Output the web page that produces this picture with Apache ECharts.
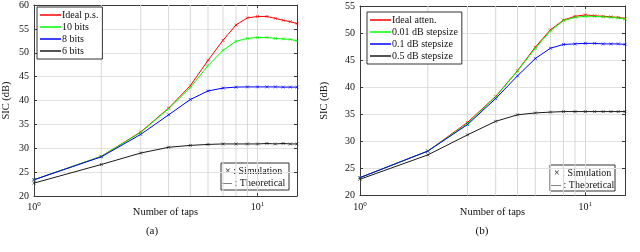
<!DOCTYPE html>
<html><head><meta charset="utf-8">
<script src="https://cdn.jsdelivr.net/npm/echarts@6/dist/echarts.min.js"></script>
<style>html,body{margin:0;padding:0;background:#fff}#c{width:640px;height:252px}</style>
</head><body><div id="c"></div>
<script>
// ---- data ----
const taps = [1,2,3,4,5,6,7,8,9,10,11,12,13,14,15];
const minorGridX = [2,3,4,5,6,7,8,9];
const yRangeA = [20, 60];
const yRangeB = [20, 55];
const yStep = 5;

const namesA = ['Ideal p.s.', '10 bits', '8 bits', '6 bits'];
const idealPs = [23.4, 28.3, 33.4, 38.4, 43.1, 48.4, 52.6, 55.8, 57.3, 57.6, 57.6, 57.2, 56.8, 56.5, 56.1];
const bits10  = [23.4, 28.3, 33.3, 38.3, 42.7, 47.3, 50.5, 52.4, 53.0, 53.2, 53.2, 53.0, 52.9, 52.8, 52.5];
const bits8   = [23.4, 28.2, 32.9, 37.0, 40.2, 42.0, 42.6, 42.8, 42.85, 42.85, 42.85, 42.85, 42.8, 42.8, 42.8];
const bits6   = [22.7, 26.6, 29.0, 30.2, 30.6, 30.8, 30.9, 30.9, 30.9, 30.9, 31.0, 30.9, 31.0, 30.9, 30.9];

const namesB = ['Ideal atten.', '0.01 dB stepsize', '0.1 dB stepsize', '0.5 dB stepsize'];
const idealAtten = [23.3, 28.2, 33.5, 38.3, 43.05, 47.4, 50.6, 52.4, 53.1, 53.35, 53.2, 53.1, 53.0, 52.9, 52.7];
const step001    = [23.3, 28.2, 33.3, 38.2, 43.0, 47.2, 50.4, 52.3, 52.9, 53.1, 53.1, 53.0, 52.9, 52.8, 52.6];
const step01     = [23.3, 28.2, 33.1, 37.9, 42.1, 45.3, 47.2, 47.9, 48.0, 48.1, 48.1, 48.0, 48.0, 48.0, 47.9];
const step05     = [23.0, 27.5, 31.2, 33.7, 34.9, 35.25, 35.4, 35.5, 35.5, 35.5, 35.5, 35.5, 35.5, 35.5, 35.5];

const seriesA = [idealPs, bits10, bits8, bits6];
const seriesB = [idealAtten, step001, step01, step05];
const colors = ['#ff0000', '#00ff00', '#0000ff', '#1a1a1a'];

// ---- styling ----
const FONT = 'Liberation Serif, Times New Roman, serif';
const axisColor = '#3a3a3a';
const gridColor = '#e2e2e2';
const vGridColor = '#d8d8d8';
const crossPath = 'path://M0,0L10,10M10,0L0,10';

function logLabel(v) {
  const e = Math.round(Math.log10(v));
  return Math.abs(Math.pow(10, e) - v) < 1e-6 ? '{b|10}{s|' + e + '}' : '';
}

function xAxes(gi) {
  return [
    { type: 'log', logBase: 10, gridIndex: gi, min: 1, max: 15, position: 'bottom',
      name: 'Number of taps', nameLocation: 'middle', nameGap: 11, nameMoveOverlap: false,
      nameTextStyle: { fontFamily: FONT, fontSize: 10.5, color: '#111' },
      axisLine: { show: true, lineStyle: { color: axisColor, width: 1 } },
      axisTick: { show: true, inside: true, length: 3, lineStyle: { color: axisColor } },
      splitLine: { show: true, lineStyle: { color: vGridColor, width: 1 } },
      axisLabel: { formatter: logLabel, margin: 5, color: '#111',
        rich: { b: { fontFamily: FONT, fontSize: 10, color: '#111' },
                s: { fontFamily: FONT, fontSize: 7, color: '#111', padding: [0, 0, 6, 0] } } } },
    { type: 'log', logBase: 10, gridIndex: gi, min: 1, max: 15, position: 'top',
      axisLine: { show: true, lineStyle: { color: axisColor, width: 1 } },
      axisTick: { show: true, inside: true, length: 3, lineStyle: { color: axisColor } },
      splitLine: { show: false }, axisLabel: { show: false } }
  ];
}
function yAxes(gi, range, gap) {
  return [
    { type: 'value', gridIndex: gi, min: range[0], max: range[1], interval: yStep, position: 'left',
      name: 'SIC (dB)', nameLocation: 'middle', nameGap: gap, nameMoveOverlap: false,
      nameTextStyle: { fontFamily: FONT, fontSize: 10.5, color: '#111' },
      axisLine: { show: true, lineStyle: { color: axisColor, width: 1 } },
      axisTick: { show: true, inside: true, length: 3, lineStyle: { color: axisColor } },
      splitLine: { show: true, lineStyle: { color: gridColor, width: 1 } },
      axisLabel: { fontFamily: FONT, fontSize: 10, color: '#111', margin: 5 } },
    { type: 'value', gridIndex: gi, min: range[0], max: range[1], interval: yStep, position: 'right',
      axisLine: { show: true, lineStyle: { color: axisColor, width: 1 } },
      axisTick: { show: true, inside: true, length: 3, lineStyle: { color: axisColor } },
      splitLine: { show: false }, axisLabel: { show: false } }
  ];
}

function buildSeries(gi, names, data, range) {
  const out = [];
  const xi = gi * 2, yi = gi * 2;
  // minor vertical grid lines at 2..9, drawn through the log axis
  minorGridX.forEach(v => {
    out.push({ type: 'line', name: 'grid' + gi + '_' + v, xAxisIndex: xi, yAxisIndex: yi,
      silent: true, z: 1, showSymbol: false, symbol: 'none',
      data: [[v, range[0]], [v, range[1]]],
      lineStyle: { color: vGridColor, width: 1 }, emphasis: { disabled: true } });
  });
  data.forEach((arr, i) => {
    out.push({ type: 'line', name: names[i], xAxisIndex: xi, yAxisIndex: yi, z: 3 + i,
      data: taps.map((t, k) => [t, arr[k]]), showSymbol: false, symbol: 'none',
      lineStyle: { color: colors[i], width: 1 }, itemStyle: { color: colors[i] } });
  });
  data.forEach((arr, i) => {
    out.push({ type: 'scatter', name: 'sim' + gi + '_' + i, xAxisIndex: xi, yAxisIndex: yi, z: 10,
      data: taps.map((t, k) => [t, arr[k]]), symbol: crossPath, symbolSize: 3,
      itemStyle: { color: colors[i], borderColor: colors[i], borderWidth: 0.8 } });
  });
  return out;
}

function legend(names, left, top) {
  return { data: names, orient: 'vertical', left: left, top: top, icon: 'rect', z: 20,
    itemWidth: 21, itemHeight: 1.5, itemGap: 2, padding: [3, 4, 3, 3],
    borderColor: '#333', borderWidth: 1, backgroundColor: '#fff',
    textStyle: { fontFamily: FONT, fontSize: 10, color: '#111', lineHeight: 10, padding: [0, 0, 0, -4] } };
}

function simBox(x, y, w, h) {
  return { type: 'group', z: 100, children: [
    { type: 'rect', shape: { x: x, y: y, width: w, height: h },
      style: { fill: '#fff', stroke: '#333', lineWidth: 1 } },
    { type: 'text', x: x + 4, y: y + 8.5, style: { text: '\u00d7 : Simulation', font: '10px ' + FONT, fill: '#111', verticalAlign: 'middle' } },
    { type: 'text', x: x + 1, y: y + 20, style: { text: '\u2014 : Theoretical', font: '10px ' + FONT, fill: '#111', verticalAlign: 'middle' } }
  ] };
}

const chart = echarts.init(document.getElementById('c'), null, { renderer: 'canvas' });
chart.setOption({
  animation: false,
  backgroundColor: '#fff',
  grid: [
    { left: 32, right: 343, top: 4, bottom: 56, show: false },
    { left: 360, right: 15, top: 6, bottom: 56.5, show: false }
  ],
  xAxis: xAxes(0).concat(xAxes(1)),
  yAxis: yAxes(0, yRangeA, 22).concat(yAxes(1, yRangeB, 30)),
  legend: [legend(namesA, 37, 7), legend(namesB, 367, 12)],
  series: buildSeries(0, namesA, seriesA, yRangeA).concat(buildSeries(1, namesB, seriesB, yRangeB)),
  graphic: [
    simBox(221, 163, 68, 27),
    simBox(550, 165, 65, 26),
    { type: 'text', x: 152, y: 231, style: { text: '(a)', font: '11px ' + FONT, fill: '#111', align: 'center', verticalAlign: 'middle' } },
    { type: 'text', x: 482, y: 231, style: { text: '(b)', font: '11px ' + FONT, fill: '#111', align: 'center', verticalAlign: 'middle' } }
  ]
});
</script>
</body></html>
